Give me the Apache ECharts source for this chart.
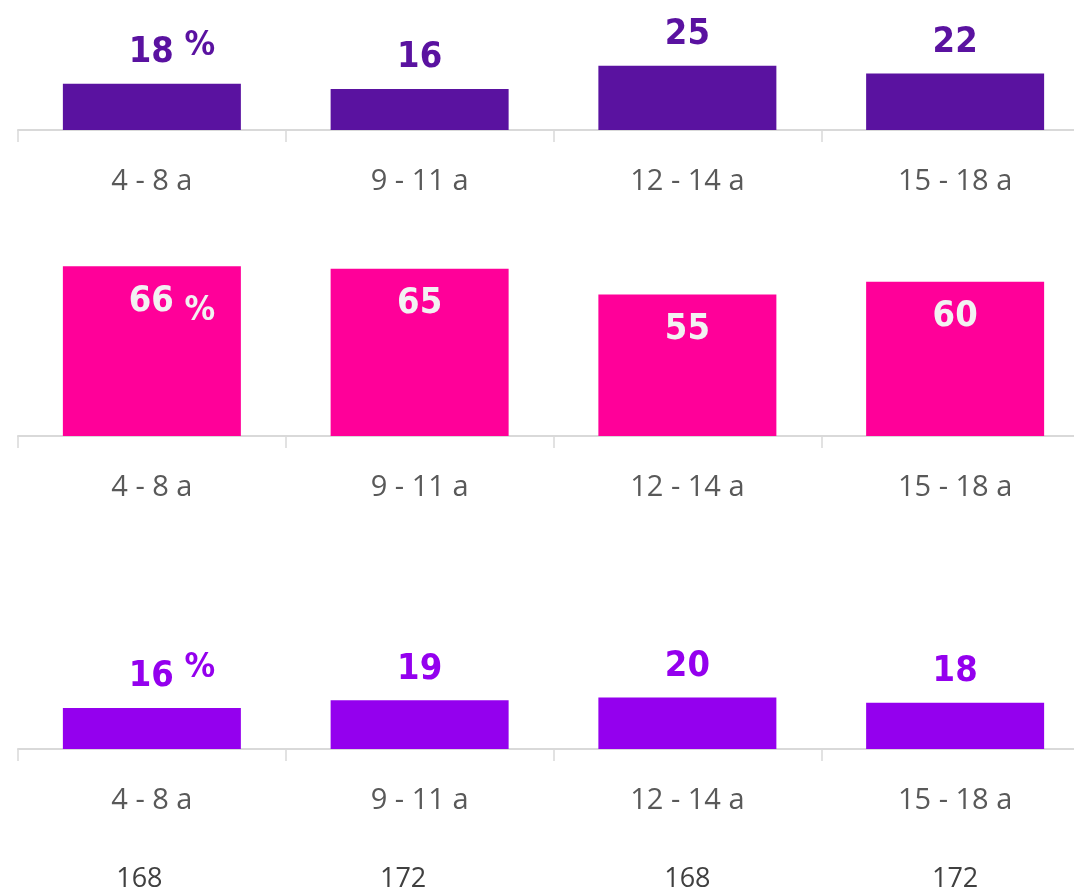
<!DOCTYPE html>
<html>
<head>
<meta charset="utf-8">
<title>chart</title>
<script src="https://cdn.jsdelivr.net/npm/echarts@6/dist/echarts.min.js"></script>
<style>
	html,body{margin:0;padding:0;background:#fff;}
	#main{width:1074px;height:893px;}
</style>
</head>
<body>
<div id="main"></div>
<script>
'use strict';
// age groups and the three rows of values (%)
var ageGroups = ['4 - 8 a', '9 - 11 a', '12 - 14 a', '15 - 18 a'];
var row1Values = [18, 16, 25, 22];
var row2Values = [66, 65, 55, 60];
var row3Values = [16, 19, 20, 18];
var sampleSizes = ['168', '172', '168', '172'];

var colors = ['#5a12a0', '#ff0099', '#9400ee'];
var valueFont = "'DejaVu Sans Condensed', 'Liberation Sans Narrow', sans-serif";
var labelFont = "'Open Sans', 'Noto Sans', sans-serif";

// layout of the three grids: axis baseline at 130 / 436 / 749, 2.57px per unit
var grids = [
	{ left: 18, width: 1071, top: 1.5, height: 128.5, outerBoundsMode: 'none' },
	{ left: 18, width: 1071, top: 256, height: 180, outerBoundsMode: 'none' },
	{ left: 18, width: 1071, top: 620.5, height: 128.5, outerBoundsMode: 'none' }
];
var maxes = [50, 70, 50];

var xAxisBase = function(i){
	return {
		type: 'category',
		gridIndex: i,
		data: ageGroups,
		axisLine: { lineStyle: { color: '#d9d9d9', width: 2 } },
		axisTick: { show: true, length: 12, lineStyle: { color: '#d9d9d9', width: 1.5 } },
		axisLabel: { margin: 37, fontSize: 29, color: '#595959', fontFamily: labelFont }
	};
};

var makeSeries = function(i, values, inside){
	var textColor = inside ? '#f2f2f2' : colors[i];
	var data = values.map(function(v, k){
		if (k !== 0) return v;
		return {
			value: v,
			label: {
				formatter: '{v|{c}}{p| %}',
				offset: [20, 0]
			}
		};
	});
	return {
		type: 'bar',
		xAxisIndex: i,
		yAxisIndex: i,
		barWidth: 178,
		data: data,
		itemStyle: { color: colors[i] },
		label: {
			show: true,
			position: inside ? 'insideTop' : 'top',
			distance: inside ? 15 : 11,
			formatter: '{v|{c}}',
			rich: {
				v: { fontSize: 36, fontWeight: 'bold', color: textColor, fontFamily: valueFont, lineHeight: 40 },
				p: { fontSize: 34, fontWeight: 'bold', color: textColor, fontFamily: valueFont,
					lineHeight: 40,
					height: inside ? 20 : (i === 0 ? 26 : 22),
					verticalAlign: inside ? 'bottom' : 'top' }
			}
		}
	};
};

var xAxes = [xAxisBase(0), xAxisBase(1), xAxisBase(2)];
// sample sizes under the last row (first two sit a bit left of centre)
xAxes.push({
	type: 'category',
	gridIndex: 2,
	position: 'bottom',
	offset: 110,
	data: sampleSizes.map(function(s, k){
		return k < 2 ? { value: s, textStyle: { padding: [0, k === 0 ? 25 : 33, 0, 0] } } : s;
	}),
	axisLine: { show: false },
	axisTick: { show: false },
	axisLabel: { margin: 7, fontSize: 27, color: '#404040', fontFamily: labelFont }
});

var option = {
	animation: false,
	grid: grids,
	xAxis: xAxes,
	yAxis: maxes.map(function(m, i){
		return { type: 'value', gridIndex: i, min: 0, max: m, show: false };
	}),
	series: [
		makeSeries(0, row1Values, false),
		makeSeries(1, row2Values, true),
		makeSeries(2, row3Values, false)
	]
};

var myChart = echarts.init(document.getElementById('main'));
myChart.setOption(option);
</script>
</body>
</html>
